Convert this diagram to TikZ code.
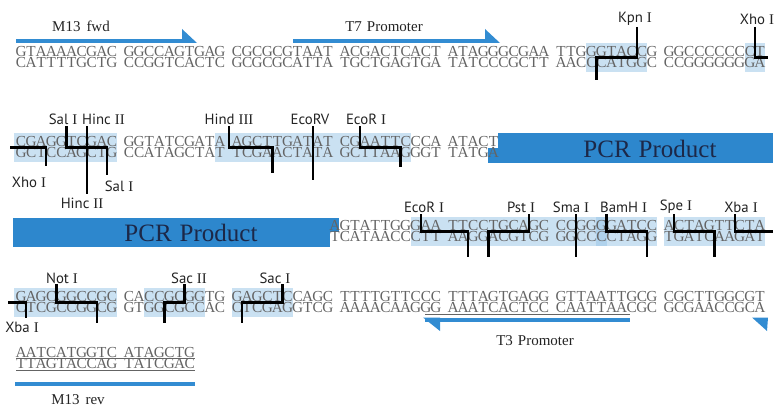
\documentclass[tikz,border=0pt]{standalone}
\usepackage{fontspec}
\setmainfont{Liberation Serif}
\newfontfamily\lblfont{PT Sans}
\newfontfamily\rnfont{Liberation Serif}
\definecolor{seqgray}{RGB}{100,100,100}
\definecolor{barblue}{RGB}{50,140,210}
\definecolor{boxblue}{RGB}{45,135,205}
\definecolor{hlblue}{RGB}{150,195,230}
\definecolor{navy}{RGB}{28,40,72}
\definecolor{lblgray}{RGB}{35,35,35}
\newlength\cw \setlength\cw{10.1pt}
\def\sqloop#1{\ifx\relax#1\else\makebox[\cw]{#1}\expandafter\sqloop\fi}
\newcommand\sqs[1]{\sqloop#1\relax}
\newcommand\rn[1]{{\rnfont #1}}
\tikzset{
 seq/.style={anchor=base west, inner sep=0pt, outer sep=0pt, text=seqgray, font=\fontsize{15.3}{15.3}\selectfont},
 enz/.style={inner sep=0pt, text=lblgray, font=\lblfont\fontsize{14.8}{14.8}\selectfont},
 prim/.style={inner sep=0pt, text=lblgray, font=\fontsize{15}{15}\selectfont},
 cutline/.style={line width=2.3pt, black, line join=miter},
 hl/.style={fill=hlblue, fill opacity=0.5, draw=none},
 bar/.style={fill=barblue, draw=none},
 pcr/.style={fill=boxblue, draw=none},
 pcrtext/.style={text=navy, font=\fontsize{25}{25}\selectfont, inner sep=0pt},
 uline/.style={draw=seqgray, line width=0.6pt},
}
\begin{document}
\begin{tikzpicture}[x=1pt,y=-1pt]
\useasboundingbox (0,0) rectangle (775,409);
% ---------- highlights
\fill[hl] (586.3,43) rectangle (646.9,72);
\fill[hl] (744.8,43) rectangle (765,72);
\fill[hl] (14,133) rectangle (117,162);
\fill[hl] (214.9,133) rectangle (410.7,162);
\fill[hl] (410.8,217) rectangle (478.3,246);
\fill[hl] (478.3,217) rectangle (538.9,246);
\fill[hl] (538.9,217) rectangle (606.5,246);
\fill[hl] (596.4,217) rectangle (657,246);
\fill[hl] (664,217) rectangle (724.6,246);
\fill[hl] (724.6,217) rectangle (765,246);
\fill[hl] (14,288) rectangle (117,317);
\fill[hl] (144.2,288) rectangle (204.8,317);
\fill[hl] (232,288) rectangle (292.6,317);
% ---------- PCR product boxes
\fill[pcr] (498,133) rectangle (773,163);
\fill[pcr] (487.5,147.5) rectangle (498,163);
\node[pcrtext] (pcr1) at (650,148.5) {PCR\hspace{8pt}Product};
\fill[pcr] (13,218) rectangle (330,247);
\fill[pcr] (330,218) rectangle (339,231.5);
\node[pcrtext] (pcr2) at (191,233) {PCR\hspace{8pt}Product};
% ---------- primer / promoter arrows
\fill[bar] (16,39) rectangle (183,43);
\fill[bar] (182,29) -- (197,43) -- (182,43) -- cycle;
\fill[bar] (293,39) rectangle (486,43);
\fill[bar] (485,29) -- (500,43) -- (485,43) -- cycle;
\fill[bar] (425,317.5) rectangle (630,322);
\fill[bar] (423,317.5) -- (440,317.5) -- (440,331) -- cycle;
\fill[bar] (752,317.5) -- (768,317.5) -- (767,331) -- cycle;
\fill[bar] (15,381.5) rectangle (195,386);
\node[prim] (m13f) at (81,26) {M13\hspace{6pt}fwd};
\node[prim] (t7) at (384,27) {T7\hspace{5pt}Promoter};
\node[prim] (t3) at (535,341) {T3\hspace{5pt}Promoter};
\node[prim] (m13r) at (78,400) {M13\hspace{6pt}rev};
% ---------- underlines
\draw[uline] (425,314.5) -- (630,314.5);
\draw[uline] (16,358.5) -- (195,358.5);
\draw[uline] (16,369.8) -- (195,369.8);
% ---------- sequences row 1
\node[seq] (r1t0) at (16,56.5) {\sqs{GTAAAACGAC}};
\node[seq] (r1t1) at (124,56.5) {\sqs{GGCCAGTGAG}};
\node[seq] (r1t2) at (232,56.5) {\sqs{CGCGCGTAAT}};
\node[seq] (r1t3) at (340,56.5) {\sqs{ACGACTCACT}};
\node[seq] (r1t4) at (448,56.5) {\sqs{ATAGGGCGAA}};
\node[seq] (r1t5) at (556,56.5) {\sqs{TTGGGTACCG}};
\node[seq] (r1t6) at (664,56.5) {\sqs{GGCCCCCCCT}};
\node[seq] (r1b0) at (16,67.5) {\sqs{CATTTTGCTG}};
\node[seq] (r1b1) at (124,67.5) {\sqs{CCGGTCACTC}};
\node[seq] (r1b2) at (232,67.5) {\sqs{GCGCGCATTA}};
\node[seq] (r1b3) at (340,67.5) {\sqs{TGCTGAGTGA}};
\node[seq] (r1b4) at (448,67.5) {\sqs{TATCCCGCTT}};
\node[seq] (r1b5) at (556,67.5) {\sqs{AACCCATGGC}};
\node[seq] (r1b6) at (664,67.5) {\sqs{CCGGGGGGGA}};
% row 2
\node[seq] (r2t0) at (16,146.5) {\sqs{CGAGGTCGAC}};
\node[seq] (r2t1) at (124,146.5) {\sqs{GGTATCGATA}};
\node[seq] (r2t2) at (232,146.5) {\sqs{AGCTTGATAT}};
\node[seq] (r2t3) at (340,146.5) {\sqs{CGAATTCCCA}};
\node[seq] (r2t4) at (448,146.5) {\sqs{ATACT}};
\node[seq] (r2b0) at (16,157.5) {\sqs{GCTCCAGCTG}};
\node[seq] (r2b1) at (124,157.5) {\sqs{CCATAGCTAT}};
\node[seq] (r2b2) at (232,157.5) {\sqs{TCGAACTATA}};
\node[seq] (r2b3) at (340,157.5) {\sqs{GCTTAAGGGT}};
\node[seq] (r2b4) at (448,157.5) {\sqs{TATGA}};
% row 3
\node[seq] (r3t3) at (329.9,230.5) {\sqs{AGTATTGGGAA}};
\node[seq] (r3t4) at (448,230.5) {\sqs{TTCCTGCAGC}};
\node[seq] (r3t5) at (556,230.5) {\sqs{CCGGGGATCC}};
\node[seq] (r3t6) at (664,230.5) {\sqs{ACTAGTTCTA}};
\node[seq] (r3b3) at (329.9,241.5) {\sqs{TCATAACCCTT}};
\node[seq] (r3b4) at (448,241.5) {\sqs{AAGGACGTCG}};
\node[seq] (r3b5) at (556,241.5) {\sqs{GGCCCCTAGG}};
\node[seq] (r3b6) at (664,241.5) {\sqs{TGATCAAGAT}};
% row 4
\node[seq] (r4t0) at (16,301.5) {\sqs{GAGCGGCCGC}};
\node[seq] (r4t1) at (124,301.5) {\sqs{CACCGCGGTG}};
\node[seq] (r4t2) at (232,301.5) {\sqs{GAGCTCCAGC}};
\node[seq] (r4t3) at (340,301.5) {\sqs{TTTTGTTCCC}};
\node[seq] (r4t4) at (448,301.5) {\sqs{TTTAGTGAGG}};
\node[seq] (r4t5) at (556,301.5) {\sqs{GTTAATTGCG}};
\node[seq] (r4t6) at (664,301.5) {\sqs{CGCTTGGCGT}};
\node[seq] (r4b0) at (16,312.5) {\sqs{CTCGCCGGCG}};
\node[seq] (r4b1) at (124,312.5) {\sqs{GTGGCGCCAC}};
\node[seq] (r4b2) at (232,312.5) {\sqs{CTCGAGGTCG}};
\node[seq] (r4b3) at (340,312.5) {\sqs{AAAACAAGGG}};
\node[seq] (r4b4) at (448,312.5) {\sqs{AAATCACTCC}};
\node[seq] (r4b5) at (556,312.5) {\sqs{CAATTAACGC}};
\node[seq] (r4b6) at (664,312.5) {\sqs{GCGAACCGCA}};
% row 5
\node[seq] (r5t0) at (16,357) {\sqs{AATCATGGTC}};
\node[seq] (r5t1) at (124,357) {\sqs{ATAGCTG}};
\node[seq] (r5b0) at (16,368) {\sqs{TTAGTACCAG}};
\node[seq] (r5b1) at (124,368) {\sqs{TATCGAC}};
% ---------- enzyme labels
\node[enz] (kpn) at (635,19) {Kpn \rn{I}};
\node[enz] (xho1) at (757,19) {Xho \rn{I}};
\node[enz] (sal1) at (63,119) {Sal \rn{I}};
\node[enz, anchor=west] (hinc1) at (82,119) {Hinc \rn{II}};
\node[enz] (hind) at (229,119) {Hind \rn{III}};
\node[enz] (ecov) at (310,119) {EcoRV};
\node[enz] (ecoa) at (366,119) {EcoR \rn{I}};
\node[enz] (xho2) at (29,182) {Xho \rn{I}};
\node[enz] (sal2) at (119,186) {Sal \rn{I}};
\node[enz] (hinc2) at (82,203) {Hinc \rn{II}};
\node[enz] (ecob) at (424,207) {EcoR \rn{I}};
\node[enz] (pst) at (521,207) {Pst \rn{I}};
\node[enz] (sma) at (571,207) {Sma \rn{I}};
\node[enz, anchor=west] (bam) at (600,207) {BamH \rn{I}};
\node[enz] (spe) at (676,207) {Spe \rn{I}};
\node[enz] (xba1) at (741,207) {Xba \rn{I}};
\node[enz] (xba2) at (22,327) {Xba \rn{I}};
\node[enz] (nott) at (62,278) {Not \rn{I}};
\node[enz] (sac2) at (189,278) {Sac \rn{II}};
\node[enz] (sac1) at (275,278) {Sac \rn{I}};
% ---------- cut lines
\draw[cutline] (637,27) -- (637,57.5) -- (596.4,57.5) -- (596.4,80);
\draw[cutline] (755,27) -- (755,57.5) -- (768,57.5);
\draw[cutline] (10,147.5) -- (46.3,147.5) -- (46.3,166);
\draw[cutline] (66.5,126) -- (66.5,147.5) -- (106.9,147.5) -- (106.9,175);
\draw[cutline] (86.7,126) -- (86.7,194);
\draw[cutline] (229,126) -- (229,147.5) -- (272.4,147.5) -- (272.4,173);
\draw[cutline] (313,126) -- (313,180);
\draw[cutline] (360.2,126) -- (360.2,147.5) -- (400.6,147.5) -- (400.6,167);
\draw[cutline] (420.9,214) -- (420.9,231.5) -- (468.2,231.5) -- (468.2,257);
\draw[cutline] (528.8,214) -- (528.8,231.5) -- (488.4,231.5) -- (488.4,257);
\draw[cutline] (576.2,214) -- (576.2,257);
\draw[cutline] (606.5,214) -- (606.5,231.5) -- (646.9,231.5) -- (646.9,257);
\draw[cutline] (674.1,214) -- (674.1,231.5) -- (714.5,231.5) -- (714.5,257);
\draw[cutline] (734.7,214) -- (734.7,231.5) -- (773,231.5);
\draw[cutline] (8,302.5) -- (26.1,302.5) -- (26.1,318);
\draw[cutline] (56.4,284) -- (56.4,302.5) -- (96.8,302.5) -- (96.8,323);
\draw[cutline] (184.6,284) -- (184.6,302.5) -- (164.4,302.5) -- (164.4,323);
\draw[cutline] (282.5,284) -- (282.5,302.5) -- (242.1,302.5) -- (242.1,323);
\end{tikzpicture}
\end{document}
